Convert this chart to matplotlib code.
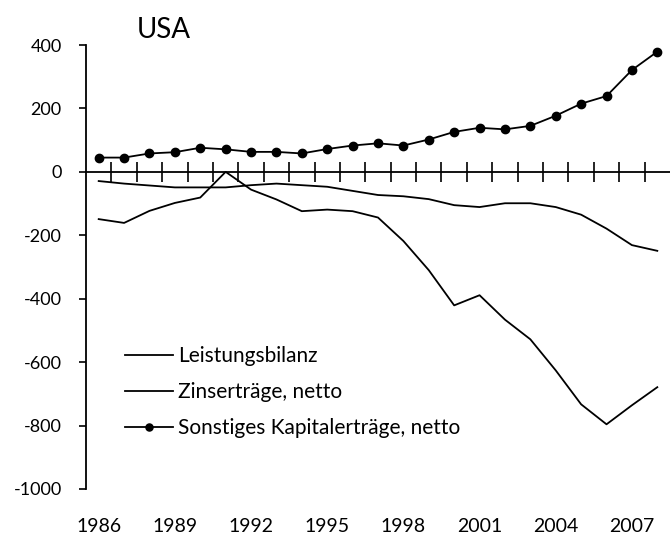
"""USA: Leistungsbilanz und Kapitalerträge, 1986-2008 (Mrd. USD)."""

import numpy as np
import matplotlib
matplotlib.use('Agg')
import matplotlib.pyplot as plt

plt.rcParams['font.family'] = ['Lato', 'DejaVu Sans']
plt.rcParams['axes.unicode_minus'] = False

# DATA
years = list(range(1986, 2009))
leistungsbilanz = [-149, -161, -123, -98, -81, 0, -56, -87, -124, -119, -124,
                   -144, -218, -310, -421, -389, -466, -528, -626, -733, -796,
                   -736, -679]
zinsertraege = [-29, -37, -43, -49, -49, -49, -42, -37, -42, -47, -60, -73,
                -77, -86, -105, -111, -99, -99, -111, -135, -179, -231, -249]
sonstige = [45, 45, 58, 62, 76, 71, 63, 63, 58, 72, 83, 90, 83, 102, 126, 139,
            134, 145, 177, 215, 239, 321, 379]
yticks = [-1000, -800, -600, -400, -200, 0, 200, 400]
label_years = years[::3]

W, H = 670, 537
fig = plt.figure(figsize=(W / 100, H / 100), dpi=100)
ax = fig.add_axes([86 / W, 1 - 489 / H, (670 - 86) / W, (489 - 45) / H])

x = np.arange(len(years))
ax.plot(x, leistungsbilanz, color='black', linewidth=1.3, label='Leistungsbilanz')
ax.plot(x, zinsertraege, color='black', linewidth=1.3, label='Zinserträge, netto')
ax.plot(x, sonstige, color='black', linewidth=1.3, marker='o', markersize=6,
        label='Sonstiges Kapitalerträge, netto')

ax.set_xlim(-0.5, len(years) - 0.5)
ax.set_ylim(-1000, 400)

# y axis
ax.set_yticks(yticks)
ax.set_yticklabels([str(v) for v in yticks])
ax.tick_params(axis='y', direction='out', length=5, width=1.2, pad=12.5,
               labelsize=13)
ax.spines['left'].set_linewidth(1.3)
for s in ('top', 'right'):
    ax.spines[s].set_visible(False)

# category axis through zero with tick marks between categories
ax.spines['bottom'].set_position(('data', 0))
ax.spines['bottom'].set_linewidth(1.3)
ax.set_xticks(np.arange(0.5, len(years) - 1, 1))
ax.set_xticklabels([])
ax.tick_params(axis='x', direction='inout', length=14, width=1.2)

# year labels at the bottom
sec = ax.secondary_xaxis(location=0)
sec.set_xticks([years.index(y) for y in label_years])
sec.set_xticklabels([str(y) for y in label_years])
sec.tick_params(length=0, pad=21, labelsize=14)
sec.spines['bottom'].set_visible(False)

fig.text(137 / W, 1 - 38 / H, 'USA', fontsize=20, ha='left', va='baseline')

ax.legend(loc='upper left', bbox_to_anchor=(125 / W, 1 - 346 / H),
          bbox_transform=fig.transFigure, frameon=False, fontsize=15,
          handlelength=2.3, handletextpad=0.25, labelspacing=0.78,
          borderpad=0, borderaxespad=0, markerscale=0.85)

fig.savefig('out.png', dpi=100)
